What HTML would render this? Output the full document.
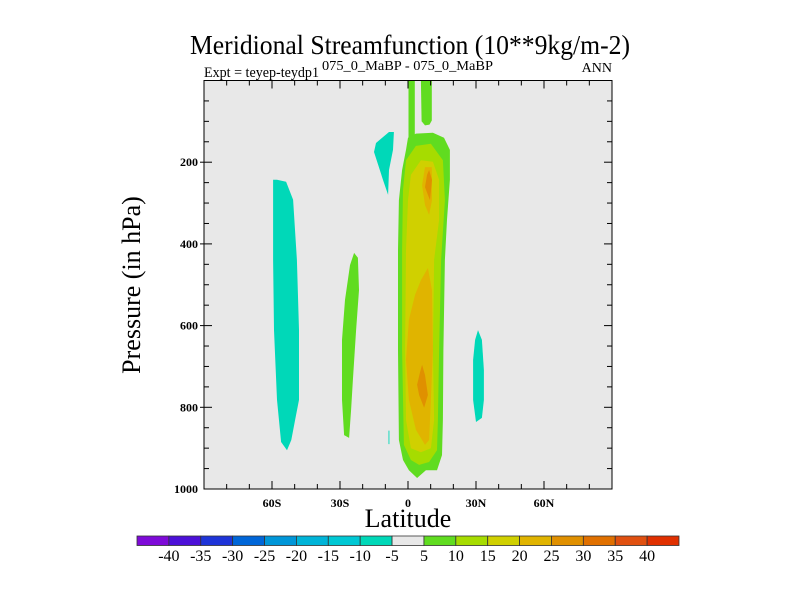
<!DOCTYPE html>
<html><head><meta charset="utf-8"><style>
html,body{margin:0;padding:0;background:#fff;}
svg{display:block;font-family:"Liberation Serif",serif;}
</style></head><body>
<svg id="chart" width="800" height="600" viewBox="0 0 800 600" xmlns="http://www.w3.org/2000/svg">
<text x="410" y="54" font-size="27" text-anchor="middle" textLength="440" lengthAdjust="spacingAndGlyphs">Meridional Streamfunction (10**9kg/m-2)</text>
<text x="204" y="77" font-size="15" textLength="115" lengthAdjust="spacingAndGlyphs">Expt = teyep-teydp1</text>
<text x="322" y="70" font-size="14" textLength="171" lengthAdjust="spacingAndGlyphs">075_0_MaBP - 075_0_MaBP</text>
<text x="612" y="72" font-size="14" text-anchor="end">ANN</text>
<rect x="204" y="80.5" width="408" height="408.5" fill="#e8e8e8"/>
<g id="fills"></g>
<g id="axes"></g>
<text x="0" y="0" font-size="26" text-anchor="middle" transform="translate(140,285) rotate(-90)">Pressure (in hPa)</text>
<text x="408" y="527" font-size="26" text-anchor="middle">Latitude</text>
<g id="cbar"></g>
</svg>
<script>
const levelColors=["#7e0ad8","#4c10d8","#1e34d8","#0066d8","#0096d8","#00b4d8","#00c8d4","#00d8b8","#e8e8e8","#60dc20","#a6dc00","#d0d000","#e0b400","#e09000","#e07000","#e05010","#e03000"];
const cbarLabels=["-40","-35","-30","-25","-20","-15","-10","-5","5","10","15","20","25","30","35","40"];
const xTicks=[-60,-30,0,30,60];
const xTickLabels=["60S","30S","0","30N","60N"];
const yTicks=[200,400,600,800,1000];
// contour regions: colour index, and [lat, pressure] vertices
const regionLevels=[7,9,7,7,9,9,9,10,11,12,13,12,13,7];
const regionPoints=[
 [[-59.5,243],[-57.8,243],[-53.8,248],[-50.7,292],[-49,439],[-48.1,611],[-48.1,782],[-49.8,831],[-51.5,880],[-53.4,905],[-56,885],[-57.8,782],[-59.1,611],[-59.5,439]],
 [[-23.8,422],[-22.1,434],[-21.6,513],[-22.9,611],[-24.3,733],[-25.1,806],[-26,875],[-28.2,868],[-29.1,782],[-29.1,635],[-27.8,537],[-25.6,452]],
 [[-8.4,126],[-6.2,126],[-6.6,170],[-8.4,219],[-8.8,280],[-11,244],[-15,175],[-14.1,153]],
 [[-8.6,857],[-8.2,857],[-8.2,890],[-8.6,890]],
 [[0.2,0],[3,0],[3,140],[0.2,140]],
 [[5.7,0],[10.5,0],[10.5,98],[9.5,108],[7.5,110],[6,100]],
 [[0,140],[3.5,130],[11,128],[15.9,140],[18.5,170],[18.5,243],[17.2,341],[16.3,439],[15.6,660],[15.4,831],[15,917],[12.8,954],[7.9,954],[4,973],[0.4,954],[-2.2,929],[-4,880],[-4.4,660],[-4.4,415],[-4,293],[-2.6,219],[-0.9,170]],
 [[-0.9,195],[3.5,160],[10.1,155],[15.4,195],[16.3,293],[14.6,439],[13.7,660],[13.2,831],[12.8,905],[9.3,934],[4.9,941],[1.3,929],[-1.8,892],[-2.6,660],[-2.6,415],[-2.2,268]],
 [[1.3,231],[5.7,195],[11,199],[13.7,243],[13.7,341],[11.5,439],[11,660],[11.5,831],[10.1,900],[5.7,910],[1.3,900],[-0.9,831],[-1.3,660],[-0.9,415],[0,293]],
 [[7.5,212],[10.5,212],[10.6,243],[10.6,293],[9.3,329],[7.5,305],[6.2,256]],
 [[9.3,219],[10.6,243],[9.7,293],[8.8,280],[7.5,261],[8.4,231]],
 [[8.8,459],[10.6,513],[11,660],[10.1,782],[9.3,880],[7.5,892],[3.5,855],[0.4,782],[-0.9,684],[0.4,586],[3.1,525],[5.7,489]],
 [[6.2,696],[7.5,721],[8.8,770],[7.1,801],[4.9,770],[4,745],[5.3,714]],
 [[30.9,611],[32.6,635],[33.5,709],[33.5,782],[32.6,826],[30,836],[28.7,782],[28.7,684],[29.6,635]]
];
const NS="http://www.w3.org/2000/svg";
const X0=204,X1=612,Y0=80.5,Y1=489;
function xs(lat){return X0+(lat+90)/180*(X1-X0);}
function ys(p){return Y0+p/1000*(Y1-Y0);}
function mk(tag,attrs,parent){const e=document.createElementNS(NS,tag);for(const k in attrs)e.setAttribute(k,attrs[k]);parent.appendChild(e);return e;}
const fills=document.getElementById('fills');
regionPoints.forEach((pts,i)=>{
 const p=mk('polygon',{points:pts.map(q=>xs(q[0]).toFixed(1)+','+ys(q[1]).toFixed(1)).join(' '),fill:levelColors[regionLevels[i]]},fills);
 
 
});
const axes=document.getElementById('axes');
const frame=mk('rect',{x:X0,y:Y0,width:X1-X0,height:Y1-Y0,fill:'none',stroke:'#000','stroke-width':1},axes);


for(let lat=-80;lat<=80;lat+=10){
 const x=xs(lat),maj=lat%30===0;
 const L=maj?8:5;
 mk('line',{x1:x,y1:Y1,x2:x,y2:Y1-L,stroke:'#000'},axes);
 mk('line',{x1:x,y1:Y0,x2:x,y2:Y0+L,stroke:'#000'},axes);
}
xTicks.forEach((v,i)=>{
 const t=mk('text',{x:xs(v),y:Y1+18,'font-size':12,'font-weight':'bold','text-anchor':'middle'},axes);
 t.textContent=xTickLabels[i];
 
 
});
for(let p=50;p<1000;p+=50){
 const y=ys(p),maj=p%200===0;
 mk('line',{x1:X0,y1:y,x2:X0+(maj?8:5),y2:y,stroke:'#000'},axes);
 mk('line',{x1:X1,y1:y,x2:X1-(maj?8:5),y2:y,stroke:'#000'},axes);
 if(maj)mk('line',{x1:X0-4,y1:y,x2:X0,y2:y,stroke:'#000'},axes);
}
yTicks.forEach(v=>{
 const t=mk('text',{x:X0-6,y:ys(v)+4,'font-size':12,'font-weight':'bold','text-anchor':'end'},axes);
 t.textContent=v;
 
 
});
const cb=document.getElementById('cbar');
const CX0=137,CX1=679,CY=536,CH=9.5,bw=(CX1-CX0)/levelColors.length;
levelColors.forEach((c,i)=>{
 const r=mk('rect',{x:CX0+i*bw,y:CY,width:bw,height:CH,fill:c,stroke:'#333','stroke-width':0.8},cb);
 
 
});
cbarLabels.forEach((s,i)=>{
 const t=mk('text',{x:CX0+(i+1)*bw,y:561,'font-size':16,'text-anchor':'middle'},cb);
 t.textContent=s;
 
 
});
</script>
</body></html>
